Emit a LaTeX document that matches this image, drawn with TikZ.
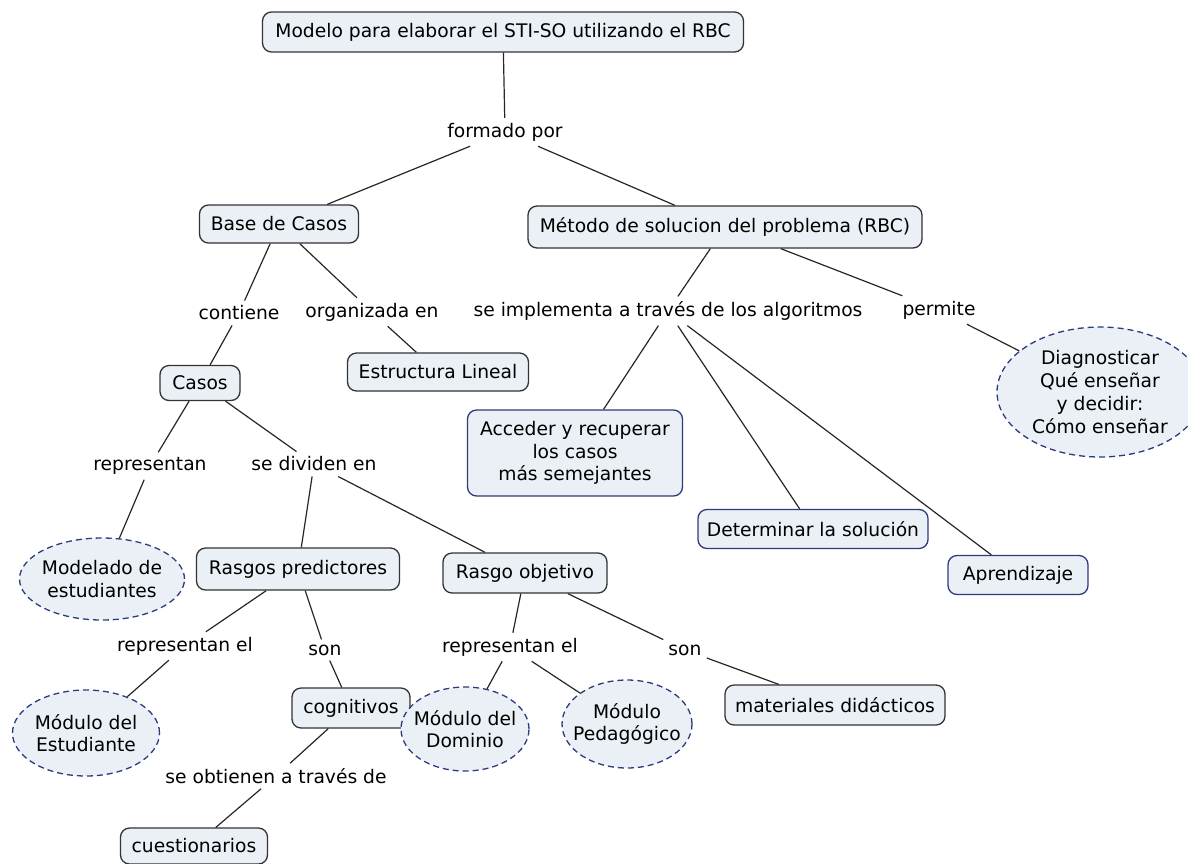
\documentclass[tikz,border=0pt]{standalone}
\usepackage{fontspec}
\setmainfont{DejaVu Sans}
\usepackage{tikz}
\usetikzlibrary{shapes.geometric}

\definecolor{boxfill}{HTML}{EAF0F5}
\definecolor{boxline}{HTML}{333333}
\definecolor{blueline}{HTML}{2E3A7E}

\tikzset{
  concept/.style={draw=boxline, line width=1.3pt, fill=boxfill, rounded corners=9pt,
    inner xsep=9pt, minimum height=38pt, font=\fontsize{18.7}{22.7}\selectfont, align=center},
  bconcept/.style={concept, draw=blueline},
  oconcept/.style={ellipse, draw=blueline, dashed, dash pattern=on 6pt off 4pt, line width=1.3pt, fill=boxfill,
    inner sep=-12pt, font=\fontsize{18.7}{22.7}\selectfont, align=center},
  link/.style={inner sep=5pt, font=\fontsize{18.7}{22.7}\selectfont, align=center},
  edge/.style={draw=black!85, line width=1.2pt}
}

\begin{document}
\begin{tikzpicture}[x=1pt, y=-1pt]
  \useasboundingbox (0,0) rectangle (1188,863);
  % concepts
  \node[concept, minimum width=481pt, minimum height=40pt] (top) at (503,32) {Modelo para elaborar el STI-SO utilizando el RBC};
  \node[link] (formado) at (505,132) {formado por};
  \node[concept, minimum width=159pt] (base) at (279,224) {Base de Casos};
  \node[concept, minimum width=394pt, minimum height=42pt] (metodo) at (725,227) {Método de solucion del problema (RBC)};
  \node[link] (contiene) at (239,313) {contiene};
  \node[link] (organizada) at (372,312) {organizada en};
  \node[concept, minimum width=181pt] (estructura) at (438,372) {Estructura Lineal};
  \node[concept, minimum width=80pt, minimum height=35pt] (casos) at (200,383) {Casos};
  \node[link] (implementa) at (668,311) {se implementa a través de los algoritmos};
  \node[link] (permite) at (939,310) {permite};
  \node[oconcept, minimum width=206pt, minimum height=130pt] (diag) at (1100,392) {Diagnosticar\\Qué enseñar\\y decidir:\\Cómo enseñar};
  \node[bconcept, minimum width=215pt, minimum height=86pt] (acceder) at (575,453) {Acceder y recuperar\\los casos\\más semejantes};
  \node[bconcept, minimum width=210pt, minimum height=39pt] (determinar) at (813,529) {Determinar la solución};
  \node[bconcept, minimum width=140pt, minimum height=39pt] (aprendizaje) at (1018,575) {Aprendizaje};
  \node[link] (representan) at (150,466) {representan};
  \node[link] (dividen) at (314,464) {se dividen en};
  \node[oconcept, minimum width=165pt, minimum height=82pt] (modelado) at (102,579) {Modelado de\\estudiantes};
  \node[concept, minimum width=203pt, minimum height=42pt] (predictores) at (298,569) {Rasgos predictores};
  \node[concept, minimum width=164pt, minimum height=40pt] (objetivo) at (525,573) {Rasgo objetivo};
  \node[link] (repizq) at (185,646) {representan el};
  \node[link] (sonizq) at (325,650) {son};
  \node[oconcept, minimum width=147pt, minimum height=86pt] (estudiante) at (86,733) {Módulo del\\Estudiante};
  \node[concept, minimum width=118pt, minimum height=40pt] (cognitivos) at (351,708) {cognitivos};
  \node[link] (obtienen) at (276,776) {se obtienen a través de};
  \node[concept, minimum width=147pt, minimum height=36pt] (cuestionarios) at (194,846) {cuestionarios};
  \node[link] (repder) at (510,647) {representan el};
  \node[link] (sonder) at (685,650) {son};
  \node[oconcept, minimum width=128pt, minimum height=84pt] (dominio) at (465,729) {Módulo del\\Dominio};
  \node[oconcept, minimum width=130pt, minimum height=88pt] (pedagogico) at (627,724) {Módulo\\Pedagógico};
  \node[concept, minimum width=220pt, minimum height=40pt] (materiales) at (835,705) {materiales didácticos};

  % connectors
  \draw[edge] (top) -- (formado);
  \draw[edge] (formado) -- (base);
  \draw[edge] (formado) -- (metodo);
  \draw[edge] (base) -- (contiene) -- (casos);
  \draw[edge] (base) -- (organizada) -- (estructura);
  \draw[edge] (metodo) -- (implementa);
  \draw[edge] (implementa) -- (acceder);
  \draw[edge] (implementa) -- (determinar);
  \draw[edge] (implementa) -- (aprendizaje);
  \draw[edge] (metodo) -- (permite) -- (diag);
  \draw[edge] (casos) -- (representan) -- (modelado);
  \draw[edge] (casos) -- (dividen);
  \draw[edge] (dividen) -- (predictores);
  \draw[edge] (dividen) -- (objetivo);
  \draw[edge] (predictores) -- (repizq) -- (estudiante);
  \draw[edge] (predictores) -- (sonizq) -- (cognitivos);
  \draw[edge] (cognitivos) -- (obtienen) -- (cuestionarios);
  \draw[edge] (objetivo) -- (repder);
  \draw[edge] (repder) -- (dominio);
  \draw[edge] (repder) -- (pedagogico);
  \draw[edge] (objetivo) -- (sonder) -- (materiales);
\end{tikzpicture}
\end{document}
